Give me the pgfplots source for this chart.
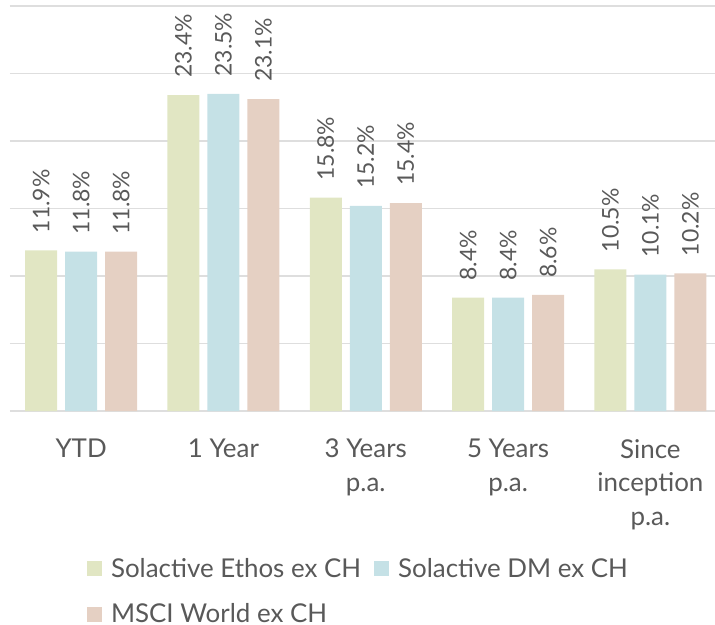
\documentclass[border=0pt]{standalone}
\usepackage{pgfplots}
\pgfplotsset{compat=1.18}
\usepackage{fontspec}
\setmainfont{Lato}

\definecolor{ethos}{HTML}{E1E6C3}
\definecolor{dm}{HTML}{C5E1E6}
\definecolor{msci}{HTML}{E5D0C3}
\definecolor{txt}{HTML}{595959}
\definecolor{gridc}{HTML}{DEDEDE}

\begin{document}
\begin{tikzpicture}
\begin{axis}[
  scale only axis,
  width=705bp, height=405bp,
  ymin=0, ymax=30,
  xmin=-0.5, xmax=4.454,
  ybar=8bp, bar width=32bp,
  ytick={0,5,...,30},
  yticklabels={},
  ymajorgrids,
  grid style={gridc, line width=1.5bp},
  axis line style={draw=none},
  major tick length=0pt,
  xtick=data,
  xticklabels={YTD, 1 Year, {3 Years\\p.a.}, {5 Years\\p.a.}, {Since\\inception\\p.a.}},
  xticklabel style={align=center, font=\fontsize{26}{34}\selectfont, text=txt,
    inner sep=0pt, anchor=north, yshift=-28bp},
  clip=false,
  /pgf/number format/assume math mode=true,
  nodes near coords={\pgfmathprintnumber[fixed,precision=1,fixed zerofill]{\pgfplotspointmeta}\%},
  nodes near coords style={rotate=90, anchor=west, inner xsep=17bp, inner ysep=0pt,
    font=\fontsize{23}{27}\selectfont, text=txt},
  legend columns=2,
  legend style={draw=none, fill=none, at={(0.109,0)}, anchor=north west, yshift=-145bp,
    font=\fontsize{26}{30}\selectfont, text=txt, row sep=21bp,
    /tikz/every even column/.append style={column sep=11bp},
    /tikz/every odd column/.append style={column sep=7bp},
    cells={anchor=west, inner sep=0pt}, inner sep=0pt},
  legend image code/.code={\fill[#1] (0bp,-7.5bp) rectangle (15bp,7.5bp);},
]
\addplot[fill=ethos, draw=none] coordinates {(0,11.9) (1,23.4) (2,15.8) (3,8.4) (4,10.5)};
\addplot[fill=dm, draw=none] coordinates {(0,11.8) (1,23.5) (2,15.2) (3,8.4) (4,10.1)};
\addplot[fill=msci, draw=none] coordinates {(0,11.8) (1,23.1) (2,15.4) (3,8.6) (4,10.2)};
\legend{Solactive Ethos ex CH, Solactive DM ex CH, MSCI World ex CH}
\coordinate (sw) at (rel axis cs:0,0);
\end{axis}
\pgfresetboundingbox
\path[use as bounding box] ([xshift=-10bp, yshift=-214bp]sw) rectangle ([xshift=705bp, yshift=411bp]sw);
\end{tikzpicture}
\end{document}
